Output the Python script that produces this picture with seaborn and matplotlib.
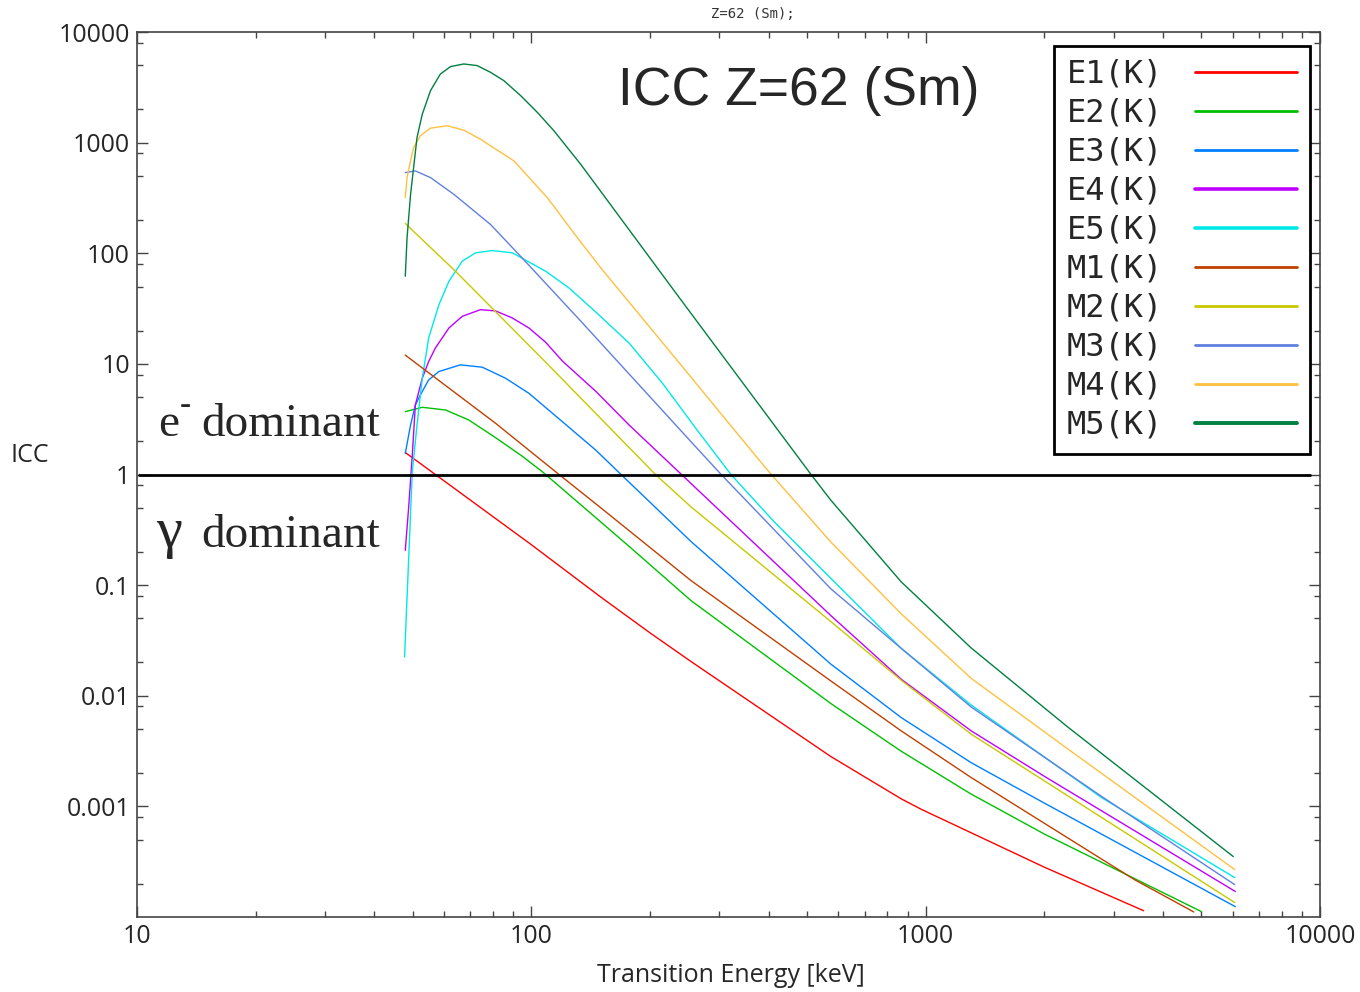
import numpy as np
import pandas as pd
import matplotlib
matplotlib.use("Agg")
import matplotlib.pyplot as plt
import seaborn as sns
from matplotlib.lines import Line2D
from matplotlib.ticker import LogLocator, NullFormatter

# K-shell internal conversion coefficients, Z=62 (Sm)
# energy in keV, ICC dimensionless
e1_kev = [47.9, 57.1, 100, 150, 200, 254, 575, 867, 975, 2000, 3570]
e1_icc = [1.58, 1.0, 0.232, 0.078, 0.037, 0.0204, 0.00282, 0.00117, 0.00094, 0.000282, 0.000114]

e2_kev = [47.9, 52.9, 60.6, 69.4, 81.2, 94.9, 106.6, 132.1, 177, 254, 575, 867, 1305, 2000, 5000]
e2_icc = [3.70, 4.05, 3.83, 3.11, 2.15, 1.46, 1.06, 0.55, 0.224, 0.0725, 0.0085, 0.00315, 0.00129,
          0.000562, 0.000112]

e3_kev = [47.9, 49.4, 50.8, 52.3, 54.9, 58.3, 66.1, 75.1, 86.0, 98.6, 119.9, 145.7, 170.2, 254,
          575, 867, 1305, 2000, 6100]
e3_icc = [1.55, 2.80, 4.25, 5.23, 7.16, 8.53, 9.80, 9.33, 7.42, 5.42, 3.00, 1.66, 0.973, 0.248,
          0.0193, 0.00635, 0.00248, 0.00107, 0.000124]

e4_kev = [47.9, 48.9, 49.9, 50.8, 52.9, 54.9, 57.1, 61.8, 66.8, 74.3, 81.2, 89.5, 98.6, 108.7,
          119.9, 145.7, 177, 254, 575, 867, 1305, 2000, 6100]
e4_icc = [0.206, 0.527, 1.50, 4.25, 7.42, 10.5, 13.9, 21.1, 26.9, 30.9, 30.1, 26.0, 21.1, 15.7,
          10.6, 5.65, 2.80, 0.83, 0.053, 0.0141, 0.00481, 0.00187, 0.00017]

e5_kev = [47.7, 48.7, 49.9, 51.3, 52.9, 54.9, 58.3, 61.8, 66.8, 72.2, 79.6, 89.5, 108.7, 124.6,
          145.7, 177, 215.1, 261.4, 320.8, 413.3, 532.6, 867, 1306, 2793, 6079]
e5_icc = [0.0224, 0.131, 1.06, 2.80, 7.42, 17.1, 34.3, 55.8, 84.8, 100.9, 105.7, 100.9, 68.8, 48.6,
          29.4, 15.4, 6.68, 2.61, 1.0, 0.372, 0.151, 0.0268, 0.00822, 0.00120, 0.000227]

m1_kev = [47.9, 81.2, 113, 150, 254, 575, 867, 1305, 3390, 4786]
m1_icc = [12.0, 2.9, 1.12, 0.50, 0.110, 0.0136, 0.00481, 0.00182, 0.000217, 0.000111]

m2_kev = [47.9, 52.3, 64.2, 109.8, 207, 254, 575, 867, 1305, 2000, 6080]
m2_icc = [186, 138, 68.8, 10.0, 0.99, 0.51, 0.0468, 0.0138, 0.00449, 0.0017, 0.000135]

m3_kev = [47.9, 50.8, 55.5, 63.6, 78.8, 95.8, 133.4, 254, 303, 575, 867, 1305, 2793, 6079]
m3_icc = [536, 555, 483, 341, 182, 87, 24.4, 1.98, 1.0, 0.0925, 0.0268, 0.0079, 0.00123, 0.000196]

m4_kev = [47.9, 48.4, 49.4, 50.3, 52.3, 55.5, 61.2, 67.4, 74.3, 90.3, 109.8, 130.9, 150,
          239.4, 375, 406, 575, 867, 1305, 2300, 6080]
m4_icc = [318, 483, 684, 903, 1153, 1352, 1420, 1295, 1074, 684, 318, 138, 73.8,
          9.8, 1.40, 1.0, 0.245, 0.055, 0.01435, 0.00328, 0.000268]

m5_kev = [47.9, 48.4, 49.4, 51.3, 52.9, 55.5, 58.8, 62.4, 67.4, 72.9, 78.8, 85.2, 94.0, 103.6,
          114.1, 133.4, 162.1, 197.1, 239.4, 512, 575, 867, 1305, 2280, 6025]
m5_icc = [62, 138, 340, 1112, 1807, 2950, 4170, 4870, 5140, 4970, 4320, 3630, 2655, 1875,
          1280, 637, 249, 97, 38, 1.0, 0.585, 0.107, 0.027, 0.0053, 0.000352]

labels = ["E1(K)", "E2(K)", "E3(K)", "E4(K)", "E5(K)", "M1(K)", "M2(K)", "M3(K)", "M4(K)", "M5(K)"]
colors = ["#ff0000", "#00c000", "#0080ff", "#c000ff", "#00e8e8",
          "#c04000", "#c8c800", "#6080e0", "#ffc040", "#008040"]
legend_widths = [2.0, 2.0, 2.0, 2.6, 2.6, 2.0, 2.0, 2.0, 2.0, 2.8]

x_ticks = [10, 100, 1000, 10000]
x_tick_labels = ["10", "100", "1000", "10000"]
y_ticks = [0.001, 0.01, 0.1, 1, 10, 100, 1000, 10000]
y_tick_labels = ["0.001", "0.01", "0.1", "1", "10", "100", "1000", "10000"]

all_kev = [e1_kev, e2_kev, e3_kev, e4_kev, e5_kev, m1_kev, m2_kev, m3_kev, m4_kev, m5_kev]
all_icc = [e1_icc, e2_icc, e3_icc, e4_icc, e5_icc, m1_icc, m2_icc, m3_icc, m4_icc, m5_icc]

df = pd.concat(
    [pd.DataFrame({"energy": k, "icc": c, "mult": lab}) for k, c, lab in zip(all_kev, all_icc, labels)],
    ignore_index=True,
)

sns.set_style("ticks")
plt.rcParams["font.family"] = ["Open Sans", "DejaVu Sans"]

W, H = 1360, 992
fig = plt.figure(figsize=(W / 100, H / 100), dpi=100)
ax = fig.add_axes([137 / W, 1 - 917 / H, 1183 / W, 885 / H])

sns.lineplot(data=df, x="energy", y="icc", hue="mult", hue_order=labels,
             palette=dict(zip(labels, colors)), estimator=None, sort=False,
             linewidth=1.0, legend=False, ax=ax)

# reference line between e- and gamma dominance
ax.axhline(1, xmin=0.002, xmax=0.9916, color="black", lw=2.0)

ax.set_xscale("log")
ax.set_yscale("log")
ax.set_xlim(10, 10000)
ax.set_ylim(1e-4, 1e4)

ax.set_xticks(x_ticks)
ax.set_xticklabels(x_tick_labels)
ax.xaxis.set_minor_locator(LogLocator(base=10, subs=np.arange(2, 10), numticks=20))
ax.xaxis.set_minor_formatter(NullFormatter())
ax.set_yticks(y_ticks)
ax.set_yticklabels(y_tick_labels)
ax.yaxis.set_minor_locator(LogLocator(base=10, subs=[2, 5, 8], numticks=20))
ax.yaxis.set_minor_formatter(NullFormatter())

ax.tick_params(which="both", direction="in", top=True, right=True, color="#444444", width=1.0)
ax.tick_params(which="major", length=8, labelsize=18)
ax.tick_params(which="minor", length=4)
ax.tick_params(axis="x", pad=5)
ax.tick_params(axis="y", pad=5)
for sp in ax.spines.values():
    sp.set_color("#444444")
    sp.set_linewidth(1.2)

ax.set_xlabel("Transition Energy [keV]", fontsize=18)
ax.xaxis.set_label_coords((731 - 137) / 1183, (917 - 976) / 885)
ax.xaxis.label.set_va("center")
ax.set_ylabel("ICC", fontsize=18, rotation=0)
ax.yaxis.set_label_coords((30 - 137) / 1183, (917 - 455) / 885)
ax.yaxis.label.set_va("center")
ax.yaxis.label.set_ha("center")

handles = [Line2D([], [], color=c, lw=w) for c, w in zip(colors, legend_widths)]
leg = ax.legend(handles, labels, loc="upper right", bbox_to_anchor=(0.9916, 0.984),
                borderaxespad=0, markerfirst=False, frameon=True, fancybox=False,
                edgecolor="black", framealpha=1,
                prop={"family": "DejaVu Sans Mono", "size": 23},
                handlelength=3.2, handletextpad=1.0, labelspacing=0.25, borderpad=0.4)
leg.get_frame().set_linewidth(2.0)

fig.text(753 / W, 1 - 14 / H, "Z=62 (Sm);", fontsize=10, family="DejaVu Sans Mono",
         ha="center", va="center", color="#333333")
fig.text(618 / W, 1 - 105 / H, "ICC Z=62 (Sm)", fontsize=38.5,
         family=["Liberation Sans", "DejaVu Sans"], ha="left", va="baseline")

serif = ["Liberation Serif", "DejaVu Serif"]
fig.text(158 / W, 1 - 436 / H, "e", fontsize=34, family=serif, ha="left", va="baseline")
fig.text(180 / W, 1 - 414 / H, "-", fontsize=24, family=serif, ha="left", va="baseline")
fig.text(201 / W, 1 - 436 / H, "dominant", fontsize=34, family=serif, ha="left", va="baseline")
fig.text(156 / W, 1 - 547 / H, "\u03b3", fontsize=42, family=serif, ha="left", va="baseline")
fig.text(201 / W, 1 - 547 / H, "dominant", fontsize=34, family=serif, ha="left", va="baseline")

fig.savefig("out.png", dpi=100)
